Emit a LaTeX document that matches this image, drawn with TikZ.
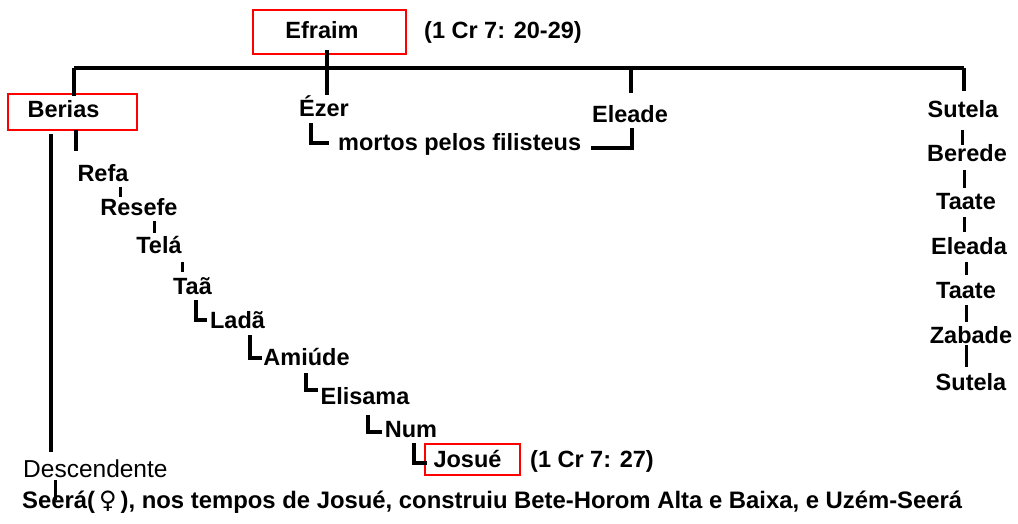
\documentclass[tikz,border=0pt]{standalone}
\usepackage{fontspec}
\setmainfont{Liberation Sans}
\newfontfamily\symfont{DejaVu Sans}
\begin{document}
\begin{tikzpicture}[x=1pt,y=-1pt,
 nm/.style={font=\bfseries\fontsize{23.5}{26}\selectfont, inner sep=0pt, anchor=base},
 nmw/.style={nm, anchor=base west},
 ln/.style={line width=3.2pt},
 tk/.style={line width=3pt},
 redbox/.style={draw=red, line width=1.5pt, inner sep=0pt}]
\useasboundingbox[fill=white] (0,0) rectangle (1018,524);
% boxes
\node[redbox, minimum width=153pt, minimum height=44pt] (efraim) at (329.5,32) {};
\node[redbox, minimum width=129pt, minimum height=36pt] (berias) at (72.5,112) {};
\node[redbox, minimum width=95pt, minimum height=31pt] (josue) at (472.5,459.5) {};
% texts
\node[nm] (efraimt) at (322,39) {Efraim};
\node[nmw] (ref1) at (424,39) {(1 Cr 7: 20-29)};
\node[nm] (beriast) at (63.5,118) {Berias};
\node[nm] (ezer) at (324,117) {Ézer};
\node[nmw] (mortos) at (338,151) {mortos pelos filisteus};
\node[nm] (eleade) at (630,123) {Eleade};
\node[nm] (sutela1) at (963,118) {Sutela};
\node[nm] (berede) at (967,162) {Berede};
\node[nm] (taate1) at (966,210) {Taate};
\node[nm] (eleada) at (969,254) {Eleada};
\node[nm] (taate2) at (966,298) {Taate};
\node[nm] (zabade) at (971,343) {Zabade};
\node[nm] (sutela2) at (971,390) {Sutela};
\node[nm] (refa) at (103,182) {Refa};
\node[nm] (resefe) at (139,215) {Resefe};
\node[nm] (tela) at (159,253) {Telá};
\node[nm] (taa) at (192.5,294) {Taã};
\node[nm] (lada) at (237.5,328) {Ladã};
\node[nm] (amiude) at (306.5,365) {Amiúde};
\node[nm] (elisama) at (365,404) {Elisama};
\node[nm] (num) at (411,437) {Num};
\node[nm] (josuet) at (467.5,467) {Josué};
\node[nmw] (ref2) at (530,467) {(1 Cr 7: 27)};
\node[inner sep=0pt, anchor=base west, font=\fontsize{24.5}{26}\selectfont] (desc) at (23,477) {Descendente};
\node[nmw, font=\bfseries\fontsize{23.85}{26}\selectfont] (seera) at (22,508) {Seerá(\,{\symfont\mdseries\fontsize{24}{26}\selectfont ♀}\,), nos tempos de Josué, construiu Bete-Horom Alta e Baixa, e Uzém-Seerá};
% junction coordinates
\coordinate (jl) at (74,68);
\coordinate (jr) at (964,68);
\coordinate (je) at (327,68);
\coordinate (jel) at (631,68);
% top bar
\draw[ln] (jl) -- (jr);
\draw[ln] (327,50) coordinate (ef0) -- (327,95) coordinate (ez0);
\draw[ln] (jl) -- (74,96) coordinate (be0);
\draw[ln] (jel) -- (631,93) coordinate (el0);
\draw[ln] (jr) -- (964,91) coordinate (su0);
% Ezer / Eleade
\draw[ln] (311,123) coordinate (ez1) -- (311,143) -- (329,143) coordinate (mo0);
\draw[ln] (591,148) coordinate (mo1) -- (632,148) -- (632,128) coordinate (el1);
% Berias descent
\draw[ln] (51,134) coordinate (be1) -- (51,452) coordinate (de0);
\draw[tk] (55,480) coordinate (de1) -- (55,500) coordinate (se0);
\draw[ln] (76,130) coordinate (be2) -- (76,151) coordinate (re0);
% chain
\draw[tk] (120,187) -- (120,197);
\draw[tk] (154,221) -- (154,233);
\draw[tk] (182,262) -- (182,272);
\draw[ln] (196,300) -- (196,320) -- (207,320);
\draw[ln] (250,335) -- (250,358) -- (262,358);
\draw[ln] (306,373) -- (306,390) -- (318,390);
\draw[ln] (368,415) -- (368,432) -- (382,432);
\draw[ln] (414,443) -- (414,463) -- (427,463);
% Sutela column
\draw[tk] (962,130) -- (962,145);
\draw[tk] (964,170) -- (964,188);
\draw[tk] (964,217) -- (964,232);
\draw[tk] (966,262) -- (966,275);
\draw[tk] (966,305) -- (966,322);
\draw[tk] (966,345) -- (966,367);
\end{tikzpicture}
\end{document}
